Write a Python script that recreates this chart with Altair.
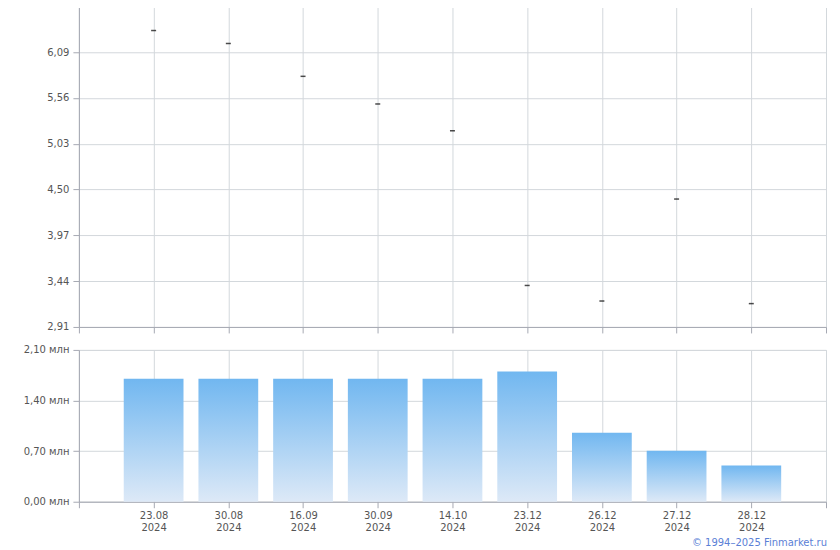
import altair as alt
import pandas as pd

dates = ["23.08", "30.08", "16.09", "30.09", "14.10", "23.12", "26.12", "27.12", "28.12"]
years = ["2024", "2024", "2024", "2024", "2024", "2024", "2024", "2024", "2024"]
prices = [6.34, 6.19, 5.81, 5.49, 5.18, 3.39, 3.21, 4.39, 3.18]
volumes = [1.70, 1.70, 1.70, 1.70, 1.70, 1.80, 0.955, 0.705, 0.50]
price_ticks = [2.91, 3.44, 3.97, 4.50, 5.03, 5.56, 6.09]
volume_ticks = [0.0, 0.70, 1.40, 2.10]
x_ticks = list(range(0, 11))

df = pd.DataFrame({
    "pos": list(range(1, len(dates) + 1)),
    "date": dates,
    "year": years,
    "price": prices,
    "volume": volumes,
})

FONT = "DejaVu Sans"
LABEL_COLOR = "#555555"
GRID = "#d3d8dc"
AXIS = "#a6a9b3"

labs = "[" + ",".join(f"['{d}','{y}']" for d, y in zip(dates, years)) + "]"
x_label_expr = f"datum.value >= 1 && datum.value <= {len(dates)} ? {labs}[datum.value - 1] : ''"

x_scale = alt.Scale(domain=[0, len(dates) + 1], nice=False, zero=False)

common_axis = dict(
    grid=True, gridColor=GRID, gridWidth=1,
    domainColor=AXIS, tickColor=AXIS, tickSize=6,
    labelFont=FONT, labelFontSize=10, labelColor=LABEL_COLOR,
)

top = alt.Chart(df).mark_tick(orient="horizontal", size=5, thickness=1.5, color="#000000").encode(
    x=alt.X("pos:Q", scale=x_scale,
            axis=alt.Axis(values=x_ticks, labels=False, title=None, **common_axis)),
    y=alt.Y("price:Q", scale=alt.Scale(domain=[2.91, 6.62], nice=False, zero=False),
            axis=alt.Axis(values=price_ticks, title=None, labelPadding=4,
                          labelExpr="replace(format(datum.value, '.2f'), '.', ',')",
                          **common_axis)),
).properties(width=748, height=321)

bottom = alt.Chart(df).transform_calculate(
    x0="datum.pos - 0.4", x1="datum.pos + 0.4"
).mark_bar(
    color=alt.Gradient(
        gradient="linear",
        stops=[alt.GradientStop(color="#71b7f0", offset=0),
               alt.GradientStop(color="#dde9f7", offset=1)],
        x1=0, x2=0, y1=0, y2=1,
    )
).encode(
    x=alt.X("x0:Q", scale=x_scale,
            axis=alt.Axis(values=x_ticks, title=None, labelExpr=x_label_expr,
                          labelPadding=3, labelLineHeight=12, **common_axis)),
    x2="x1:Q",
    y=alt.Y("volume:Q", scale=alt.Scale(domain=[0, 2.10], nice=False),
            axis=alt.Axis(values=volume_ticks, title=None, labelPadding=4,
                          labelExpr="replace(format(datum.value, '.2f'), '.', ',') + ' млн'",
                          **common_axis)),
    y2=alt.datum(0),
).properties(width=748, height=152)

chart = alt.vconcat(top, bottom, spacing=10).properties(
    padding={"left": 14, "top": -3, "right": 5, "bottom": 1},
    title=alt.TitleParams(
        text="© 1994–2025 Finmarket.ru", orient="bottom", anchor="end",
        color="#5b80d6", fontSize=10, fontWeight="normal", font=FONT, offset=5,
    ),
).configure_view(stroke=None).configure(background="white")

chart.save("out.html", embed_options={"renderer": "svg", "actions": False})
